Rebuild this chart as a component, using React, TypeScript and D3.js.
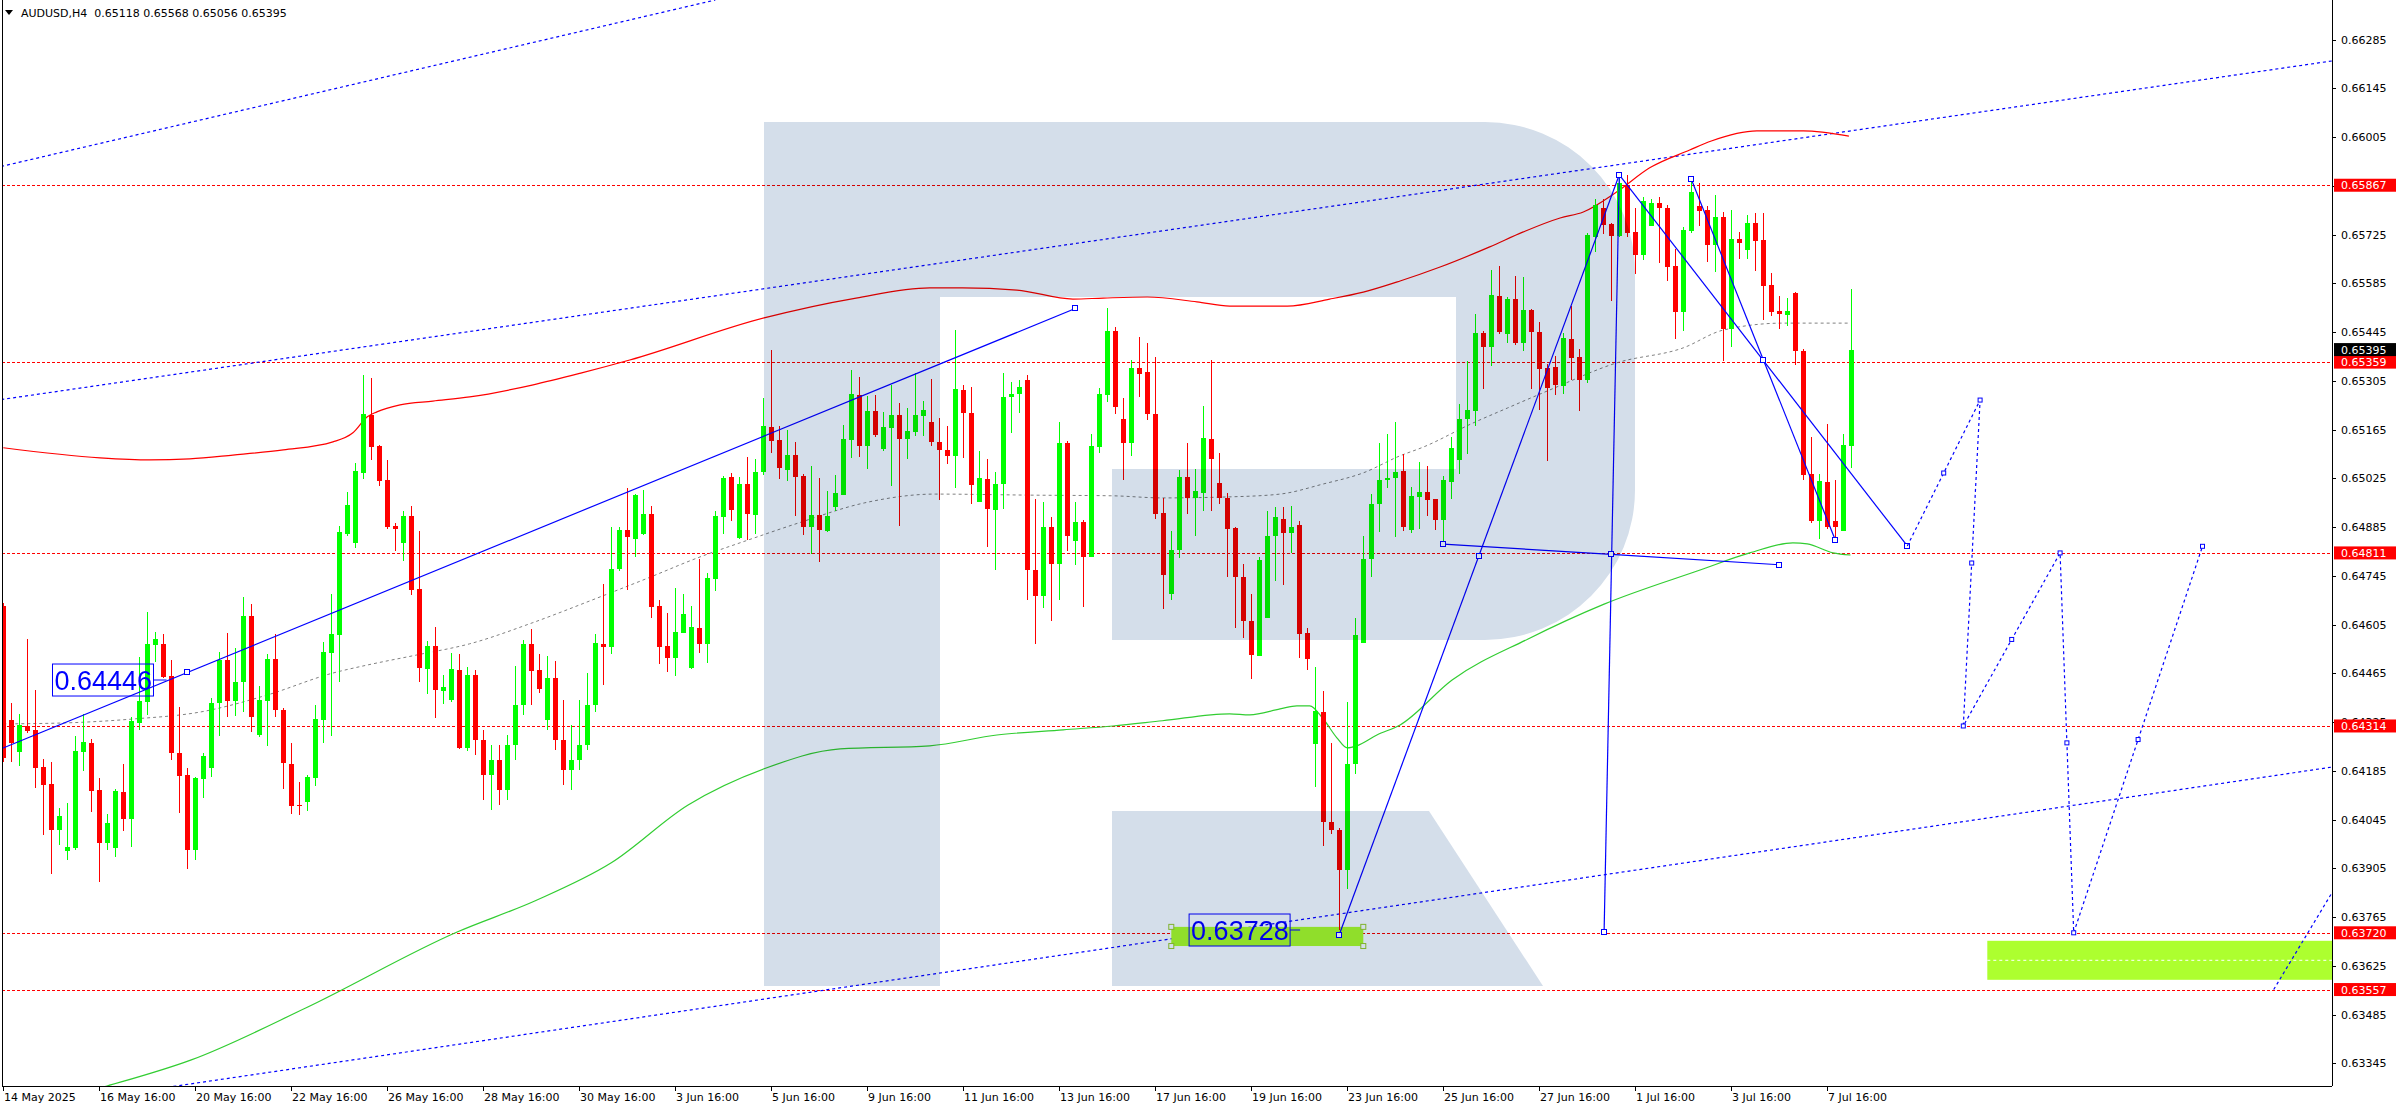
import React from 'react';
import * as d3 from 'd3';

// ---------- DATA ----------
const opens = [
0.64659,0.64331,0.64240,0.64314,0.64303,0.64196,0.64148,0.64016,0.63955,0.63964,
0.64240,0.64265,0.64130,0.63978,0.63964,0.64125,0.64047,0.64323,0.64383,0.64547,
0.64550,0.64458,0.64237,0.64173,0.63958,0.64162,0.64194,0.64380,0.64504,0.64386,
0.64440,0.64630,0.64288,0.64386,0.64507,0.64360,0.64205,0.64087,0.64096,0.64165,
0.64331,0.64524,0.64576,0.64866,0.64840,0.65041,0.65207,0.65118,0.65021,0.64889,
0.64840,0.64917,0.64708,0.64478,0.64544,0.64415,0.64389,0.64475,0.64251,0.64461,
0.64274,0.64173,0.64216,0.64130,0.64260,0.64375,0.64550,0.64475,0.64331,0.64452,
0.64274,0.64188,0.64216,0.64260,0.64375,0.64550,0.64541,0.64765,0.64877,0.64851,
0.64866,0.64923,0.64659,0.64544,0.64509,0.64581,0.64481,0.64596,0.64550,0.64736,
0.64914,0.65029,0.64854,0.65009,0.64920,0.65044,0.65173,0.65136,0.65049,0.65092,
0.65032,0.64886,0.64920,0.64874,0.64943,0.64978,0.65136,0.65265,0.65118,0.65219,
0.65110,0.65170,0.65207,0.65138,0.65158,0.65204,0.65187,0.65130,0.65107,0.65090,
0.65279,0.65213,0.64957,0.65024,0.64934,0.65009,0.65259,0.65268,0.65308,0.64762,
0.64688,0.64886,0.64779,0.65127,0.64845,0.64900,0.64799,0.65115,0.65265,0.65448,
0.65196,0.65127,0.65342,0.65331,0.65210,0.64926,0.64693,0.64820,0.65029,0.64969,
0.64983,0.65138,0.65012,0.64969,0.64883,0.64742,0.64616,0.64515,0.64624,0.64860,
0.64909,0.64868,0.64891,0.64581,0.64262,0.64354,0.64039,0.64016,0.63899,0.64205,
0.64552,0.64794,0.64952,0.65021,0.65026,0.65047,0.64877,0.64972,0.64986,0.64966,
0.64906,0.65015,0.65078,0.65196,0.65219,0.65443,0.65402,0.65549,0.65440,0.65540,
0.65414,0.65509,0.65446,0.65342,0.65345,0.65291,0.65426,0.65374,0.65308,0.65718,
0.65802,0.65756,0.65721,0.65868,0.65733,0.65667,0.65750,0.65816,0.65802,0.65635,
0.65503,0.65736,0.65807,0.65796,0.65695,0.65777,0.65454,0.65713,0.65681,0.65759,
0.65710,0.65581,0.65506,0.65494,0.65558,0.65391,0.65038,0.64903,0.65015,0.64903,
0.64874,0.65118];
const highs = [
0.64667,0.64380,0.64349,0.64564,0.64418,0.64219,0.64211,0.64079,0.64093,0.64285,
0.64349,0.64277,0.64165,0.64061,0.64133,0.64205,0.64340,0.64512,0.64641,0.64584,
0.64578,0.64504,0.64369,0.64194,0.64168,0.64237,0.64395,0.64527,0.64581,0.64538,
0.64685,0.64664,0.64429,0.64521,0.64578,0.64366,0.64265,0.64153,0.64173,0.64375,
0.64555,0.64693,0.64889,0.64986,0.65069,0.65322,0.65314,0.65121,0.65078,0.64897,
0.64932,0.64946,0.64874,0.64558,0.64598,0.64461,0.64524,0.64521,0.64484,0.64475,
0.64303,0.64260,0.64260,0.64288,0.64486,0.64561,0.64593,0.64521,0.64515,0.64501,
0.64389,0.64317,0.64389,0.64466,0.64578,0.64722,0.64886,0.64886,0.64998,0.64980,
0.64992,0.64946,0.64676,0.64639,0.64710,0.64693,0.64659,0.64794,0.64754,0.64932,
0.65032,0.65041,0.65029,0.65087,0.65081,0.65256,0.65394,0.65176,0.65164,0.65130,
0.65038,0.65061,0.65026,0.64989,0.65035,0.65179,0.65337,0.65316,0.65262,0.65265,
0.65216,0.65293,0.65242,0.65227,0.65328,0.65247,0.65311,0.65199,0.65176,0.65451,
0.65293,0.65288,0.65104,0.65081,0.65044,0.65328,0.65302,0.65308,0.65322,0.64966,
0.64957,0.64914,0.65187,0.65133,0.64957,0.64906,0.65153,0.65285,0.65514,0.65460,
0.65256,0.65365,0.65431,0.65414,0.65374,0.64969,0.64874,0.65049,0.65127,0.65052,
0.65233,0.65365,0.65098,0.64983,0.64886,0.64779,0.64693,0.64800,0.64932,0.64943,
0.64943,0.64946,0.64903,0.64596,0.64484,0.64415,0.64265,0.64021,0.64383,0.64624,
0.64860,0.64980,0.65127,0.65153,0.65187,0.65095,0.65001,0.65072,0.65061,0.64966,
0.65032,0.65144,0.65239,0.65362,0.65497,0.65448,0.65624,0.65635,0.65546,0.65606,
0.65603,0.65512,0.65474,0.65354,0.65377,0.65443,0.65520,0.65397,0.65730,0.65828,
0.65828,0.65759,0.65897,0.65897,0.65802,0.65833,0.65828,0.65833,0.65810,0.65684,
0.65747,0.65888,0.65874,0.65807,0.65839,0.65790,0.65796,0.65733,0.65782,0.65787,
0.65787,0.65615,0.65549,0.65543,0.65561,0.65397,0.65144,0.65038,0.65181,0.65021,
0.65153,0.65568];
const lows = [
0.64211,0.64211,0.64199,0.64294,0.64136,0.64001,0.63889,0.63972,0.63929,0.63958,
0.64185,0.64067,0.63866,0.63958,0.63938,0.64013,0.63967,0.64303,0.64346,0.64498,
0.64452,0.64216,0.64064,0.63903,0.63929,0.64107,0.64168,0.64285,0.64340,0.64343,
0.64354,0.64297,0.64283,0.64257,0.64340,0.64133,0.64061,0.64059,0.64070,0.64142,
0.64265,0.64285,0.64440,0.64860,0.64825,0.65024,0.65078,0.65003,0.64880,0.64817,
0.64788,0.64690,0.64440,0.64406,0.64337,0.64377,0.64383,0.64248,0.64242,0.64231,
0.64102,0.64073,0.64087,0.64102,0.64216,0.64346,0.64375,0.64409,0.64303,0.64245,
0.64145,0.64130,0.64188,0.64245,0.64354,0.64432,0.64521,0.64759,0.64705,0.64800,
0.64863,0.64624,0.64492,0.64469,0.64458,0.64581,0.64478,0.64524,0.64495,0.64702,
0.64866,0.64903,0.64851,0.64848,0.64866,0.65035,0.65098,0.65024,0.65018,0.64917,
0.64863,0.64808,0.64785,0.64871,0.64932,0.64978,0.65084,0.65087,0.65052,0.65144,
0.65104,0.65003,0.64889,0.65081,0.65147,0.65147,0.65118,0.64963,0.65067,0.64998,
0.65084,0.64952,0.64957,0.64828,0.64762,0.64937,0.65156,0.65213,0.64676,0.64550,
0.64653,0.64616,0.64676,0.64817,0.64777,0.64656,0.64799,0.65098,0.65245,0.65210,
0.65021,0.65090,0.65259,0.65193,0.64909,0.64650,0.64676,0.64797,0.64923,0.64860,
0.64932,0.64932,0.64952,0.64742,0.64596,0.64567,0.64449,0.64515,0.64624,0.64731,
0.64719,0.64811,0.64509,0.64475,0.64139,0.63970,0.64004,0.63728,0.63846,0.64176,
0.64552,0.64742,0.64871,0.64998,0.64857,0.64874,0.64868,0.64880,0.64917,0.64877,
0.64837,0.64966,0.65038,0.65095,0.65176,0.65282,0.65348,0.65440,0.65414,0.65408,
0.65391,0.65282,0.65222,0.65075,0.65265,0.65268,0.65308,0.65219,0.65299,0.65675,
0.65727,0.65535,0.65718,0.65718,0.65612,0.65652,0.65750,0.65644,0.65592,0.65426,
0.65448,0.65730,0.65750,0.65647,0.65618,0.65362,0.65402,0.65655,0.65655,0.65622,
0.65480,0.65491,0.65454,0.65463,0.65351,0.65021,0.64897,0.64851,0.64880,0.64857,
0.64874,0.65056];
const closes = [
0.64222,0.64265,0.64317,0.64300,0.64194,0.64145,0.64016,0.64056,0.63967,0.64242,
0.64268,0.64128,0.63978,0.64036,0.64128,0.64047,0.64328,0.64386,0.64550,0.64564,
0.64455,0.64237,0.64171,0.63958,0.64165,0.64228,0.64380,0.64504,0.64386,0.64440,
0.64630,0.64340,0.64389,0.64507,0.64360,0.64208,0.64084,0.64084,0.64168,0.64334,
0.64527,0.64578,0.64871,0.64949,0.65046,0.65210,0.65115,0.65018,0.64886,0.64880,
0.64917,0.64705,0.64481,0.64544,0.64418,0.64426,0.64478,0.64251,0.64461,0.64274,
0.64173,0.64216,0.64130,0.64260,0.64375,0.64550,0.64472,0.64420,0.64452,0.64274,
0.64188,0.64216,0.64260,0.64375,0.64552,0.64541,0.64766,0.64877,0.64857,0.64978,
0.64923,0.64656,0.64541,0.64509,0.64584,0.64636,0.64598,0.64550,0.64739,0.64917,
0.65026,0.64934,0.65009,0.64923,0.65044,0.65176,0.65133,0.65055,0.65092,0.65029,
0.64886,0.64920,0.64877,0.64917,0.64983,0.65138,0.65268,0.65118,0.65219,0.65150,
0.65173,0.65207,0.65138,0.65161,0.65207,0.65222,0.65130,0.65107,0.65090,0.65282,
0.65213,0.65006,0.65026,0.64937,0.65009,0.65259,0.65268,0.65288,0.64762,0.64688,
0.64886,0.64779,0.65127,0.64860,0.64900,0.64799,0.65118,0.65268,0.65448,0.65230,
0.65127,0.65342,0.65325,0.65210,0.64923,0.64748,0.64820,0.65029,0.64969,0.64989,
0.65141,0.65081,0.64969,0.64880,0.64742,0.64616,0.64518,0.64791,0.64860,0.64914,
0.64868,0.64886,0.64578,0.64507,0.64357,0.64039,0.64016,0.63899,0.64205,0.64576,
0.64794,0.64952,0.65021,0.65026,0.65044,0.64886,0.64975,0.64986,0.64963,0.64906,
0.65021,0.65112,0.65196,0.65222,0.65443,0.65402,0.65552,0.65446,0.65540,0.65414,
0.65509,0.65446,0.65339,0.65285,0.65293,0.65428,0.65371,0.65308,0.65724,0.65810,
0.65753,0.65721,0.65874,0.65730,0.65667,0.65822,0.65816,0.65802,0.65632,0.65503,
0.65739,0.65848,0.65793,0.65695,0.65777,0.65454,0.65713,0.65701,0.65759,0.65707,
0.65578,0.65503,0.65497,0.65506,0.65391,0.65035,0.64903,0.65018,0.64886,0.64886,
0.65121,0.65395];

const timeLabels = ['14 May 2025','16 May 16:00','20 May 16:00','22 May 16:00','26 May 16:00','28 May 16:00','30 May 16:00','3 Jun 16:00','5 Jun 16:00','9 Jun 16:00','11 Jun 16:00','13 Jun 16:00','17 Jun 16:00','19 Jun 16:00','23 Jun 16:00','25 Jun 16:00','27 Jun 16:00','1 Jul 16:00','3 Jul 16:00','7 Jul 16:00'];
const timeLabelBars = [0,12,24,36,48,60,72,84,96,108,120,132,144,156,168,180,192,204,216,228];

const priceTicks = [0.66285,0.66145,0.66005,0.65865,0.65725,0.65585,0.65445,0.65305,0.65165,0.65025,0.64885,0.64745,0.64605,0.64465,0.64325,0.64185,0.64045,0.63905,0.63765,0.63625,0.63485,0.63345];
const levelLines = [0.65867,0.65359,0.64811,0.64314,0.63720,0.63557];
const lastPrice = 0.65395;
const header = 'AUDUSD,H4  0.65118 0.65568 0.65056 0.65395';

// moving averages as [bar, price]
const upperBand: [number, number][] = [
[0,0.65113],[12.1,0.65084],[18.3,0.65078],[23.3,0.65081],[28.7,0.65092],[35,0.65107],[41.2,0.65130],[43.7,0.65156],
[45.5,0.65202],[46.7,0.65216],[49.6,0.65236],[53.7,0.65247],[58.3,0.65259],[66.1,0.65293],[72.3,0.65328],[78.3,0.65365],
[95.1,0.65486],[106.6,0.65543],[115.8,0.65572],[119.9,0.65572],[126.7,0.65566],[133.7,0.65540],[137.5,0.65543],[143,0.65546],
[149.2,0.65532],[153.3,0.65520],[160.5,0.65520],[165.8,0.65540],[170,0.65560],[174.6,0.65592],[179.6,0.65632],[185.8,0.65690],
[190,0.65733],[194.6,0.65773],[197.5,0.65790],[201.7,0.65848],[205.8,0.65917],[210.8,0.65968],[213.5,0.65994],[219.2,0.66023],
[225,0.66023],[230.7,0.66008]];
const midMA: [number, number][] = [
[0,0.64320],[8,0.64323],[16.2,0.64334],[24.6,0.64354],[33,0.64403],[41.2,0.64466],[45.5,0.64489],[51.7,0.64518],[58.3,0.64550],
[66.1,0.64610],[74.3,0.64682],[80.6,0.64739],[86.8,0.64797],[93.1,0.64848],[99.4,0.64897],[107.7,0.64955],[116.5,0.64980],
[128.3,0.64977],[138.7,0.64975],[144.9,0.64969],[153.3,0.64972],[159.6,0.64980],[165,0.65009],[170,0.65041],[174.6,0.65090],
[177.5,0.65115],[183.7,0.65184],[188,0.65227],[193.3,0.65279],[201.7,0.65357],[210,0.65400],[215,0.65451],[222.5,0.65471],[230.6,0.65471]];
const slowMA: [number, number][] = [
[5,0.63230],[12.97,0.63280],[23.5,0.63355],[37.8,0.63504],[56.8,0.63723],[66.5,0.63812],[76,0.63921],[85.6,0.64087],[95.1,0.64191],
[104.6,0.64248],[115.8,0.64257],[124.2,0.64288],[132.5,0.64303],[138.7,0.64314],[144.9,0.64329],[153.3,0.64349],[155.8,0.64346],
[159.6,0.64363],[161.7,0.64372],[163.3,0.64372],[165,0.64334],[166.7,0.64280],[168,0.64251],[169.2,0.64257],[171.7,0.64288],
[174.6,0.64317],[181.1,0.64446],[190.6,0.64564],[200.1,0.64664],[212.1,0.64762],[218.3,0.64811],[223.7,0.64840],[225.5,0.64837],
[228.7,0.64811],[230.9,0.64805]];

// analysis objects as [bar, price]
const channelA: [number, number][] = [[-1,0.65917],[89,0.66399]];
const channelB: [number, number][] = [[-1,0.65249],[292,0.66227]];
const channelC: [number, number][] = [[-1,0.63203],[292,0.64199]];
const trendLine: [number, number][] = [[-0.1,0.64250],[134,0.65513]];
const trendAnchors: [number, number][] = [[23,0.64468],[134,0.65513]];
const trendLabel = { bar: 20.4, price: 0.64446, text: '0.64446' };
const lowLabel = { bar: 162.1, price: 0.63728, text: '0.63728' };
const lowZone: [number, number, number, number] = [146, 170, 0.63737, 0.63682];
const zig1: [number, number][] = [[167,0.63715],[202,0.65897]];
const zig2: [number, number][] = [[202,0.65897],[200.1,0.63723]];
const zig3: [number, number][] = [[180,0.64836],[201,0.64807],[222,0.64777]];
const zig4: [number, number][] = [[202,0.65897],[238,0.64831]];
const zig5: [number, number][] = [[211,0.65884],[229,0.64848]];
const zigAnchors: [number, number][] = [[167,0.63715],[184.5,0.64803],[202,0.65897],[200.1,0.63723],[180,0.64836],[201,0.64807],[222,0.64777],[238,0.64831],[220,0.65365],[211,0.65884],[229,0.64848]];
const forecast1: [number, number][] = [[238,0.64831],[247.1,0.65250],[245,0.64314],[257.1,0.64811],[258.8,0.63720],[274.9,0.64830]];
const forecast2: [number, number][] = [[283.8,0.63557],[292,0.63870]];
const targetZone: [number, number, number] = [248, 0.63697, 0.63585];

// ---------- LAYOUT ----------
const W = 2396, H = 1110;
const PR = 2332, PB = 1086, PL = 2;
const FONT = '"DejaVu Sans", Tahoma, sans-serif';

export default function App() {
  const x = d3.scaleLinear().domain([0, 231]).range([3.3, 1851.3]);
  const y = d3.scaleLinear().domain([0.63280, 0.66399]).range([PB, 0]);
  const line = d3.line<[number, number]>().x(d => x(d[0])).y(d => y(d[1]));
  const smooth = d3.line<[number, number]>().x(d => x(d[0])).y(d => y(d[1])).curve(d3.curveMonotoneX);
  const blue = '#0000ff';

  const square = (p: [number, number], key: string | number) => (
    <rect key={key} x={Math.round(x(p[0])) - 2.5} y={Math.round(y(p[1])) - 2.5} width={5} height={5} fill="#ffffff" stroke={blue} strokeWidth={1} />
  );

  const tl = { x: x(trendLabel.bar), y: y(trendLabel.price) };
  const ll = { x: x(lowLabel.bar), y: y(lowLabel.price) };

  // forecast markers: vertices plus segment midpoints
  const fMarks: [number, number][] = [];
  forecast1.forEach((p, i) => {
    if (i > 0) {
      const q = forecast1[i - 1];
      fMarks.push([(p[0] + q[0]) / 2, (p[1] + q[1]) / 2]);
      fMarks.push(p);
    }
  });

  return (
    <svg width={W} height={H} style={{ position: 'absolute', left: 0, top: 0, background: '#fff' }} fontFamily={FONT}>
      <defs>
        <clipPath id="plot"><rect x={PL} y={0} width={PR - PL} height={PB} /></clipPath>
      </defs>
      <rect x={0} y={0} width={W} height={H} fill="#ffffff" />
      <g clipPath="url(#plot)">
        {levelLines.map((p, i) => (
          <line key={i} x1={PL} x2={PR} y1={Math.round(y(p)) + 0.5} y2={Math.round(y(p)) + 0.5} stroke="#ff0000" strokeDasharray="3,2" />
        ))}
        {[channelA, channelB, channelC].map((c, i) => (
          <path key={i} d={line(c) || ''} fill="none" stroke={blue} strokeWidth={1.2} strokeDasharray="3,3" />
        ))}
        <rect x={x(targetZone[0])} y={y(targetZone[1])} width={PR - x(targetZone[0])} height={y(targetZone[2]) - y(targetZone[1])} fill="#adff2f" />
        <line x1={x(targetZone[0])} x2={PR} y1={y((targetZone[1] + targetZone[2]) / 2)} y2={y((targetZone[1] + targetZone[2]) / 2)} stroke="#ffffff" strokeDasharray="3,3" />
        <rect x={x(lowZone[0])} y={y(lowZone[2])} width={x(lowZone[1]) - x(lowZone[0])} height={y(lowZone[3]) - y(lowZone[2])} fill="#adff2f" />
        {[[lowZone[0], lowZone[2]], [lowZone[1], lowZone[2]], [lowZone[0], lowZone[3]], [lowZone[1], lowZone[3]]].map((p, i) => (
          <rect key={i} x={x(p[0]) - 2.5} y={y(p[1]) - 2.5} width={5} height={5} fill="#ffffff" stroke="#9acd32" />
        ))}
        <path d={smooth(upperBand) || ''} fill="none" stroke="#ff0000" strokeWidth={1.2} />
        <path d={smooth(midMA) || ''} fill="none" stroke="#808080" strokeWidth={1} strokeDasharray="3,3" />
        <path d={smooth(slowMA) || ''} fill="none" stroke="#32cd32" strokeWidth={1.2} />
        {opens.map((o, i) => {
          const c = closes[i];
          const col = c >= o ? '#00ff00' : '#ff0000';
          const cx = Math.round(x(i));
          const top = Math.round(y(Math.max(o, c)));
          const bot = Math.round(y(Math.min(o, c)));
          return (
            <g key={i}>
              <line x1={cx + 0.5} x2={cx + 0.5} y1={Math.round(y(highs[i]))} y2={Math.round(y(lows[i]))} stroke={col} />
              <rect x={cx - 2} y={top} width={5} height={Math.max(1, bot - top)} fill={col} />
            </g>
          );
        })}
        <path d={line(trendLine) || ''} fill="none" stroke={blue} strokeWidth={1.2} />
        {trendAnchors.map((p, i) => square(p, 't' + i))}
        <line x1={tl.x - 13} x2={tl.x} y1={tl.y} y2={tl.y} stroke={blue} />
        <rect x={tl.x - 114} y={tl.y - 16} width={101} height={32} fill="none" stroke={blue} />
        <text x={tl.x - 112} y={tl.y + 10} fontSize={27} fill={blue} fontFamily='"Liberation Sans", Arial, sans-serif'>{trendLabel.text}</text>
        <line x1={ll.x - 10} x2={ll.x} y1={ll.y} y2={ll.y} stroke={blue} />
        <rect x={ll.x - 111} y={ll.y - 16} width={101} height={32} fill="none" stroke={blue} />
        <text x={ll.x - 109} y={ll.y + 10} fontSize={27} fill={blue} fontFamily='"Liberation Sans", Arial, sans-serif'>{lowLabel.text}</text>
        {[zig1, zig2, zig3, zig4, zig5].map((z, i) => (
          <path key={i} d={line(z) || ''} fill="none" stroke={blue} strokeWidth={1.2} />
        ))}
        {zigAnchors.map((p, i) => square(p, 'z' + i))}
        <path d={line(forecast1) || ''} fill="none" stroke={blue} strokeWidth={1.2} strokeDasharray="3,3" />
        <path d={line(forecast2) || ''} fill="none" stroke={blue} strokeWidth={1.2} strokeDasharray="3,3" />
        {fMarks.map((p, i) => (
          <rect key={i} x={x(p[0]) - 2} y={y(p[1]) - 2} width={4} height={4} fill="#ffffff" stroke={blue} />
        ))}
        <g style={{ mixBlendMode: 'multiply' }} fill="#d4deea">
          <path fillRule="evenodd" d="M764,122 H1485 A150,150 0 0 1 1635,272 V490 A150,150 0 0 1 1485,640 H1112 V469 H940 V986 H764 Z M940,297 H1456 V469 H940 Z" />
          <path d="M1112,811 H1429 L1543,986 H1112 Z" />
        </g>
      </g>
      <line x1={PL + 0.5} x2={PL + 0.5} y1={0} y2={PB} stroke="#000" />
      <line x1={PL} x2={PR} y1={PB + 0.5} y2={PB + 0.5} stroke="#000" />
      <line x1={PR + 0.5} x2={PR + 0.5} y1={0} y2={PB} stroke="#000" />
      {priceTicks.map((p, i) => (
        <g key={i}>
          <line x1={PR} x2={PR + 4} y1={Math.round(y(p)) + 0.5} y2={Math.round(y(p)) + 0.5} stroke="#000" />
          <text x={PR + 9} y={y(p) + 4} fontSize={11} fill="#000">{p.toFixed(5)}</text>
        </g>
      ))}
      {levelLines.map((p, i) => (
        <g key={i}>
          <rect x={PR + 2} y={y(p) - 6.5} width={62} height={13} fill="#ff0000" />
          <text x={PR + 9} y={y(p) + 4} fontSize={11} fill="#ffffff">{p.toFixed(5)}</text>
        </g>
      ))}
      <rect x={PR + 2} y={y(lastPrice) - 6.5} width={62} height={13} fill="#000000" />
      <text x={PR + 9} y={y(lastPrice) + 4} fontSize={11} fill="#ffffff">{lastPrice.toFixed(5)}</text>
      {timeLabelBars.map((b, i) => (
        <g key={i}>
          <line x1={Math.round(x(b)) + 0.5} x2={Math.round(x(b)) + 0.5} y1={PB} y2={PB + 5} stroke="#000" />
          <text x={Math.round(x(b)) + 1} y={PB + 15} fontSize={11} fill="#000">{timeLabels[i]}</text>
        </g>
      ))}
      <path d="M5,10 L13,10 L9,15 Z" fill="#000" />
      <text x={21} y={17} fontSize={11} fill="#000" style={{ whiteSpace: 'pre' }}>{header}</text>
    </svg>
  );
}
